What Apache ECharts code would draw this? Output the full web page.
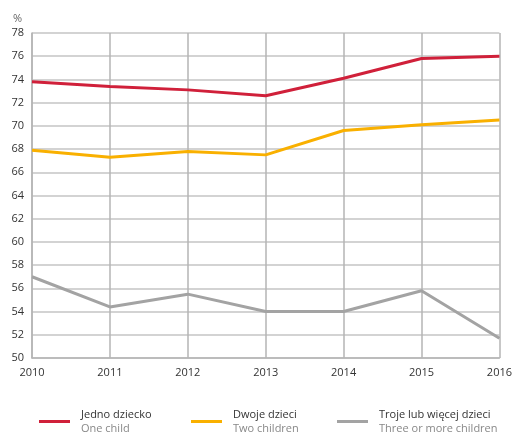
<!DOCTYPE html>
<html>
<head>
<meta charset="utf-8">
<script src="https://cdn.jsdelivr.net/npm/echarts@6/dist/echarts.min.js"></script>
<style>
  html, body { margin: 0; padding: 0; background: #fff; }
  #chart { width: 515px; height: 432px; }
</style>
</head>
<body>
<div id="chart"></div>
<script>
// dane
const years = ['2010', '2011', '2012', '2013', '2014', '2015', '2016']
const oneChild = [73.8, 73.4, 73.1, 72.6, 74.1, 75.8, 76.0]
const twoChildren = [67.9, 67.3, 67.8, 67.5, 69.6, 70.1, 70.5]
const threeOrMore = [57.0, 54.4, 55.5, 54.0, 54.0, 55.8, 51.7]

const seriesNames = ['Jedno dziecko', 'Dwoje dzieci', 'Troje lub więcej dzieci']
const seriesNamesEn = ['One child', 'Two children', 'Three or more children']
const colors = ['#d0203a', '#f9b000', '#a3a3a3']

const font = 'Open Sans'
const chart = echarts.init(document.getElementById('chart'))

const legendLeft = [39, 191, 337]
const legends = seriesNames.map((name, i) => ({
  left: legendLeft[i],
  top: 409,
  padding: 0,
  data: [name],
  icon: 'rect',
  itemWidth: 31,
  itemHeight: 3,
  itemGap: 10,
  selectedMode: false,
  formatter: n => '{a|' + n + '}\n{b|' + seriesNamesEn[i] + '}',
  textStyle: {
    padding: [0, 0, 0, 6],
    rich: {
      a: { fontFamily: font, fontSize: 11, color: '#333', lineHeight: 14 },
      b: { fontFamily: font, fontSize: 11, color: '#888', lineHeight: 14 }
    }
  }
}))

const data = [oneChild, twoChildren, threeOrMore]

chart.setOption({
  animation: false,
  grid: { left: 32, right: 11, top: 33, bottom: 74 },
  legend: legends,
  xAxis: {
    type: 'category',
    data: years,
    boundaryGap: false,
    axisLine: { lineStyle: { color: '#b5b5b5', width: 1.5 } },
    axisTick: { show: false },
    axisLabel: { fontFamily: font, fontSize: 11, color: '#333', margin: 9 },
    splitLine: { show: true, lineStyle: { color: '#b5b5b5', width: 1.5 } }
  },
  yAxis: {
    type: 'value',
    min: 50,
    max: 78,
    interval: 2,
    name: '%',
    nameLocation: 'end',
    nameGap: 9,
    nameTextStyle: { fontFamily: font, fontSize: 11, color: '#666', align: 'right', padding: [0, 10, 0, 0] },
    axisLine: { show: true, lineStyle: { color: '#b5b5b5', width: 1.5 } },
    axisTick: { show: false },
    axisLabel: { fontFamily: font, fontSize: 11, color: '#333', margin: 8 },
    splitLine: { lineStyle: { color: '#c4c4c4', width: 1.5 } }
  },
  series: seriesNames.map((name, i) => ({
    name: name,
    type: 'line',
    data: data[i],
    symbol: 'none',
    lineStyle: { color: colors[i], width: 3 },
    itemStyle: { color: colors[i] }
  }))
})
</script>
</body>
</html>
